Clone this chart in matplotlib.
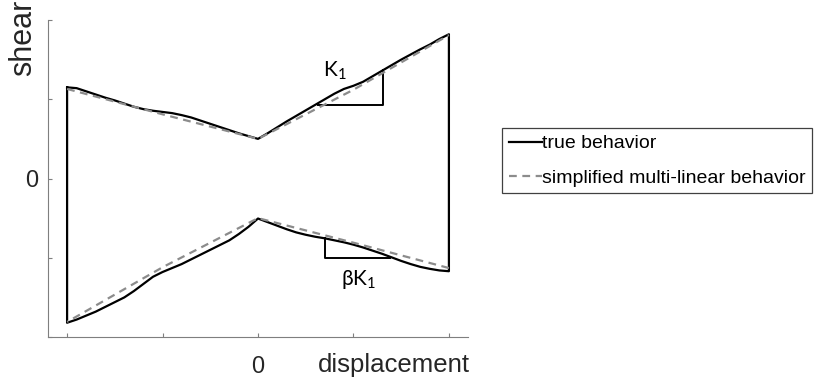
"""Bow-tie shear/displacement loop with its multi-linear simplification."""

import matplotlib
matplotlib.use("Agg")
import matplotlib.pyplot as plt          # noqa: E402

# --- data -------------------------------------------------------------------
# true behaviour, upper branch (loading from -2 to +2)
TOP_X = [-2.0, -1.9, -1.8, -1.7, -1.6, -1.5, -1.4, -1.3, -1.2, -1.1, -1.0,
         -0.9, -0.8, -0.7, -0.6, -0.5, -0.4, -0.3, -0.2, -0.1, 0.0,
         0.1, 0.2, 0.3, 0.4, 0.5, 0.6, 0.7, 0.8, 0.9, 1.0,
         1.1, 1.2, 1.3, 1.4, 1.5, 1.6, 1.7, 1.8, 1.9, 2.0]
TOP_Y = [1.15, 1.14, 1.10, 1.06, 1.02, 0.985, 0.945, 0.905, 0.875, 0.855, 0.84,
         0.825, 0.80, 0.77, 0.73, 0.69, 0.65, 0.61, 0.57, 0.535, 0.50,
         0.57, 0.645, 0.72, 0.79, 0.86, 0.93, 1.00, 1.07, 1.13, 1.17,
         1.22, 1.29, 1.36, 1.43, 1.50, 1.565, 1.63, 1.69, 1.76, 1.82]
# true behaviour, lower branch (unloading from +2 back to -2)
BOT_X = [2.0, 1.9, 1.8, 1.7, 1.6, 1.5, 1.4, 1.3, 1.2, 1.1, 1.0,
         0.9, 0.8, 0.7, 0.6, 0.5, 0.4, 0.3, 0.2, 0.1, 0.0,
         -0.1, -0.2, -0.3, -0.4, -0.5, -0.6, -0.7, -0.8, -0.9, -1.0,
         -1.1, -1.2, -1.3, -1.4, -1.5, -1.6, -1.7, -1.8, -1.9, -2.0]
BOT_Y = [-1.17, -1.16, -1.14, -1.115, -1.08, -1.04, -0.995, -0.95, -0.91,
         -0.87, -0.835, -0.805, -0.78, -0.755, -0.735, -0.71, -0.68, -0.64,
         -0.595, -0.55, -0.505,
         -0.61, -0.70, -0.78, -0.84, -0.90, -0.96, -1.02, -1.08, -1.13, -1.18,
         -1.24, -1.33, -1.42, -1.50, -1.56, -1.62, -1.68, -1.73, -1.78, -1.82]

# simplified multi-linear behaviour (break points)
LIN_TOP_X = [-2, -1, 0, 1, 2]
LIN_TOP_Y = [1.13, 0.81, 0.50, 1.12, 1.81]
LIN_BOT_X = [2, 1, 0, -1, -2]
LIN_BOT_Y = [-1.13, -0.81, -0.50, -1.12, -1.81]

# slope triangles
K1_TRI_X = [0.63, 1.31, 1.31]
K1_TRI_Y = [0.93, 0.93, 1.37]
BK1_TRI_X = [0.70, 0.70, 1.38]
BK1_TRI_Y = [-0.755, -1.00, -1.00]

TICKS = [-2, -1, 0, 1, 2]
TICK_LABELS = ["", "", "0", "", ""]

SANS = ["Liberation Sans", "DejaVu Sans"]
NOTE_FONT = ["Lato", "DejaVu Sans"]
AXIS_GREY = "#7f7f7f"
DASH_GREY = "#8c8c8c"

fig = plt.figure(figsize=(8.14, 3.84), dpi=100)
ax = fig.add_axes([48 / 814, 1 - 337 / 384, 420 / 814, 317 / 384])

# closed loop: upper branch, drop at +2, lower branch, rise at -2
loop_x = TOP_X + BOT_X + [TOP_X[0]]
loop_y = TOP_Y + BOT_Y + [TOP_Y[0]]
ax.plot(loop_x, loop_y, color="black", lw=1.6, solid_joinstyle="round",
        label="true behavior", zorder=3)
ax.plot(LIN_TOP_X, LIN_TOP_Y, color=DASH_GREY, lw=1.6, ls=(0, (3.5, 2.5)),
        label="simplified multi-linear behavior", zorder=4)
ax.plot(LIN_BOT_X, LIN_BOT_Y, color=DASH_GREY, lw=1.6, ls=(0, (3.5, 2.5)),
        zorder=4)

ax.plot(K1_TRI_X, K1_TRI_Y, color="black", lw=1.4)
ax.plot(BK1_TRI_X, BK1_TRI_Y, color="black", lw=1.4)
ax.text(0.68, 1.28, r"$\mathregular{K_1}$", fontsize=15,
        family=NOTE_FONT, va="baseline")
ax.text(0.87, -1.34, r"$\mathregular{\beta K_1}$", fontsize=15,
        family=NOTE_FONT, va="baseline")

ax.set_xlim(-2.2, 2.2)
ax.set_ylim(-2, 2)
ax.set_xticks(TICKS)
ax.set_xticklabels(TICK_LABELS)
ax.set_yticks(TICKS)
ax.set_yticklabels(TICK_LABELS)
for side in ("top", "right"):
    ax.spines[side].set_visible(False)
for side in ("left", "bottom"):
    ax.spines[side].set_color(AXIS_GREY)
    ax.spines[side].set_linewidth(0.8)
ax.tick_params(direction="in", length=3, width=0.8, color=AXIS_GREY,
               labelsize=17, labelcolor="#262626")
ax.tick_params(axis="x", pad=14)
ax.tick_params(axis="y", pad=7)
for lab in ax.get_xticklabels() + ax.get_yticklabels():
    lab.set_family(SANS)

fig.text(318 / 814, 1 - 372 / 384, "displacement", fontsize=18.5,
         family=SANS, color="#262626", va="baseline", ha="left")
# the long axis name runs off the top edge and is clipped there
fig.text(23 / 814, 1 - 76 / 384, "shear", fontsize=22, rotation=90,
         family=SANS, color="#262626", va="bottom", ha="center")

leg = ax.legend(loc="upper left", bbox_to_anchor=(502 / 814, 1 - 128 / 384),
                bbox_transform=fig.transFigure, borderaxespad=0,
                prop={"family": SANS, "size": 14}, handlelength=1.7,
                handletextpad=0.0, borderpad=0.35, labelspacing=0.85,
                fancybox=False, framealpha=1)
leg.get_frame().set_edgecolor("#404040")
leg.get_frame().set_linewidth(0.9)

fig.savefig("out.png", dpi=100)
